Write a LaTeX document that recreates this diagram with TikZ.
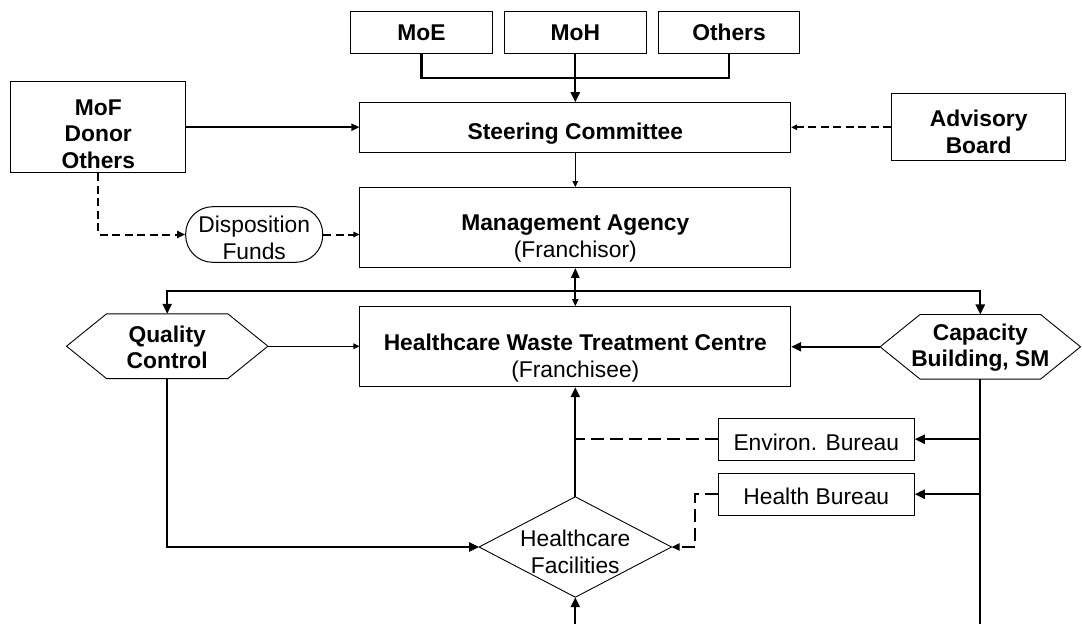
\documentclass[tikz,border=0pt]{standalone}
\usepackage{fontspec}
\setmainfont{Liberation Sans}
\usetikzlibrary{arrows.meta,calc}
\tikzset{
  boxnode/.style={draw=black, line width=1pt, inner sep=0pt, fill=white},
  shapenode/.style={inner sep=0pt},
  shapeline/.style={draw=black, line width=0.9pt, fill=white},
  lbl/.style={font=\fontsize{22.8}{26.5}\selectfont, align=center, inner sep=0pt, anchor=north},
  conn/.style={line width=2.2pt},
  thinconn/.style={line width=1.3pt},
  dsh/.style={line width=2pt, dash pattern=on 8pt off 4.5pt},
  ldsh/.style={line width=2pt, dash pattern=on 13pt off 6pt},
  bigtip/.style={-{Triangle[length=10pt,width=9pt]}},
  midtip/.style={-{Triangle[length=8pt,width=7pt]}},
  smalltip/.style={-{Triangle[length=6pt,width=5.5pt]}},
}
\begin{document}
\begin{tikzpicture}[x=1pt,y=-1pt]
\fill[white] (0,0) rectangle (1082,624);
\useasboundingbox (0,0) rectangle (1082,624);

% boxes
\node[boxnode, minimum width=141.6pt, minimum height=42.3pt] (moe) at (421.5,32.2) {};
\node[boxnode, minimum width=141.6pt, minimum height=42.3pt] (moh) at (575.3,32.2) {};
\node[boxnode, minimum width=141.4pt, minimum height=42.3pt] (oth) at (729,32.2) {};
\node[boxnode, minimum width=430.7pt, minimum height=49.6pt] (sc) at (575.3,127.5) {};
\node[boxnode, minimum width=174.7pt, minimum height=91pt] (mof) at (98.3,127.2) {};
\node[boxnode, minimum width=174pt, minimum height=67.3pt] (adv) at (978.7,127.3) {};
\node[boxnode, minimum width=430.7pt, minimum height=79.6pt] (ma) at (575.3,227.5) {};
\node[boxnode, rounded corners=27pt, minimum width=137pt, minimum height=55.6pt] (disp) at (254.2,234.5) {};
\node[boxnode, minimum width=430.7pt, minimum height=80pt] (hwtc) at (575.3,346.7) {};
\node[boxnode, minimum width=196pt, minimum height=41.7pt] (env) at (816.3,439.2) {};
\node[boxnode, minimum width=196pt, minimum height=41.7pt] (hb) at (816.3,494.2) {};

% hexagons and diamond
\node[shapenode, minimum width=201pt, minimum height=64.3pt] (qc) at (167.2,346.2) {};
\draw[shapeline] (qc.west) -- ([xshift=40pt]qc.north west) -- ([xshift=-40pt]qc.north east) -- (qc.east) -- ([xshift=-40pt]qc.south east) -- ([xshift=40pt]qc.south west) -- cycle;
\node[shapenode, minimum width=200pt, minimum height=64.3pt] (cb) at (980.3,346.8) {};
\draw[shapeline] (cb.west) -- ([xshift=40pt]cb.north west) -- ([xshift=-40pt]cb.north east) -- (cb.east) -- ([xshift=-40pt]cb.south east) -- ([xshift=40pt]cb.south west) -- cycle;
\node[shapenode, minimum width=192pt, minimum height=100pt] (hf) at (575.3,547) {};
\draw[shapeline] (hf.north) -- (hf.east) -- (hf.south) -- (hf.west) -- cycle;

% labels
\node[lbl] (moeT) at (421.5,25) {\textbf{MoE}};
\node[lbl] (mohT) at (575.3,25) {\textbf{MoH}};
\node[lbl] (othT) at (729,23.8) {\textbf{Others}};
\node[lbl] (scT) at (575.3,123) {\textbf{Steering Committee}};
\node[lbl] (mofT) at (98.3,99.3) {\textbf{MoF}\\\textbf{Donor}\\\textbf{Others}};
\node[lbl] (advT) at (978.7,110) {\textbf{Advisory}\\\textbf{Board}};
\node[lbl] (maT) at (575.3,215) {\textbf{Management Agency}\\(Franchisor)};
\node[lbl] (dispT) at (254.2,216) {Disposition\\Funds};
\node[lbl] (qcT) at (167.2,325.7) {\textbf{Quality}\\\textbf{Control}};
\node[lbl] (hwtcT) at (575.3,334) {\textbf{Healthcare Waste Treatment Centre}\\(Franchisee)};
\node[lbl] (cbT) at (980.3,323.3) {\textbf{Capacity}\\\textbf{Building, SM}};
\node[lbl] (envT) at (816.3,433.3) {Environ. Bureau};
\node[lbl] (hbT) at (816.3,487.3) {Health Bureau};
\node[lbl] (hfT) at (575.3,530) {Healthcare\\Facilities};

% coordinates
\coordinate (j1) at (575.3,77.7);
\coordinate (j2) at (575.3,291);
\coordinate (bot) at (575.3,624);
\coordinate (cbend) at (980.3,624);
\coordinate (k) at (695,494.2);

% connectors
\draw[conn] (moe.south) |- (j1) -| (oth.south);
\draw[conn,bigtip] (moh.south) -- (sc.north);
\draw[conn,midtip] (mof.east) -- (mof.east -| sc.west);
\draw[dsh,smalltip] (adv.west) -- (adv.west -| sc.east);
\draw[thinconn,smalltip] (sc.south) -- (ma.north);
\draw[dsh,midtip] (mof.south) |- (disp.west);
\draw[dsh,smalltip] (disp.east) -- (disp.east -| ma.west);
\draw[conn,{Triangle[length=7pt,width=6pt]}-{Triangle[length=10pt,width=8pt]}] (hwtc.north) -- (ma.south);
\draw[conn,bigtip] (j2) -| (qc.north);
\draw[conn,bigtip] (j2) -| (cb.north);
\draw[thinconn,smalltip] (qc.east) -- (qc.east -| hwtc.west);
\draw[conn,bigtip] (cb.west) -- (cb.west -| hwtc.east);
\draw[conn,bigtip] (qc.south) |- (hf.west);
\draw[conn,bigtip] (hf.north) -- (hwtc.south);
\draw[conn,bigtip] (bot) -- (hf.south);
\draw[conn] (cb.south) -- (cbend);
\draw[conn,bigtip] (cb.south |- env.east) -- (env.east);
\draw[conn,bigtip] (cb.south |- hb.east) -- (hb.east);
\draw[ldsh] (env.west) -- (env.west -| hf.north);
\draw[ldsh,midtip] (hb.west) -- (k) |- (hf.east);
\end{tikzpicture}
\end{document}
